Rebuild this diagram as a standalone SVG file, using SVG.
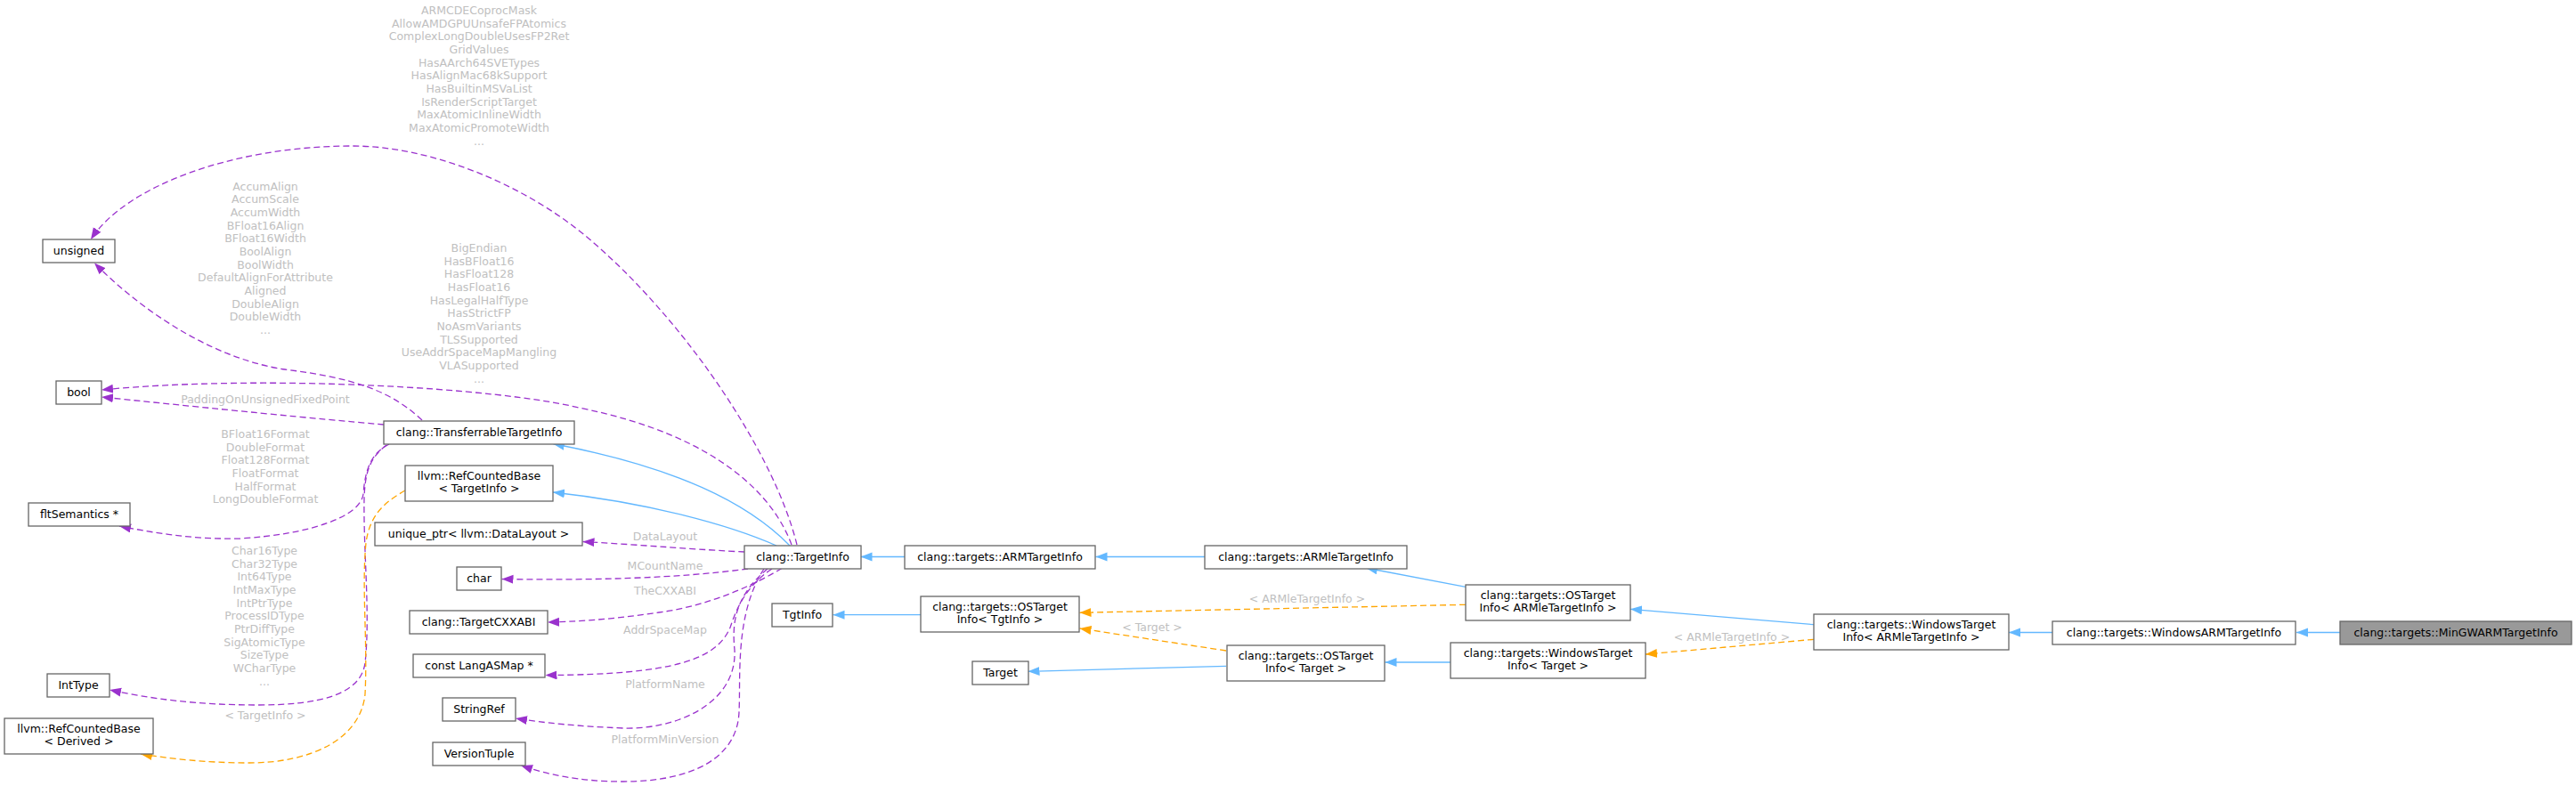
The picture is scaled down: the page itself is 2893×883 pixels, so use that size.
<svg xmlns="http://www.w3.org/2000/svg" width="2893" height="883" viewBox="0 0 2893 883">
<style>
.n rect{fill:#ffffff;stroke:#666666;stroke-width:1.3}
.n.h rect{fill:#999999}
text{font-family:"DejaVu Sans","Liberation Sans",sans-serif;font-size:12.5px;text-anchor:middle}
.n text{fill:#000000}
.lb{fill:#c0c0c0}
.eb{fill:none;stroke:#63b8ff;stroke-width:1.3}
.ep{fill:none;stroke:#9a32cd;stroke-width:1.3;stroke-dasharray:7,4}
.eo{fill:none;stroke:#ffa500;stroke-width:1.3;stroke-dasharray:7,4}
</style>
<defs>
<marker id="ab" markerUnits="userSpaceOnUse" markerWidth="14" markerHeight="11" refX="13" refY="5" orient="auto"><path d="M0,0 L13,5 L0,10 z" fill="#63b8ff"/></marker>
<marker id="ap" markerUnits="userSpaceOnUse" markerWidth="14" markerHeight="11" refX="13" refY="5" orient="auto"><path d="M0,0 L13,5 L0,10 z" fill="#9a32cd"/></marker>
<marker id="ao" markerUnits="userSpaceOnUse" markerWidth="14" markerHeight="11" refX="13" refY="5" orient="auto"><path d="M0,0 L13,5 L0,10 z" fill="#ffa500"/></marker>
</defs>
<rect x="0" y="0" width="2893" height="883" fill="#ffffff"/>

<g id="edges">
<path class="eb" marker-end="url(#ab)" d="M2628,710.5 L2579,710.5"/>
<path class="eb" marker-end="url(#ab)" d="M2305,710.5 L2256,710.5"/>
<path class="eb" marker-end="url(#ab)" d="M2037,701.7 L1831,684.3"/>
<path class="eo" marker-end="url(#ao)" d="M2037,718.3 L1848,735"/>
<path class="eb" marker-end="url(#ab)" d="M1646,659.3 L1534,638"/>
<path class="eo" marker-end="url(#ao)" d="M1646,679.3 L1212.5,688.3"/>
<path class="eb" marker-end="url(#ab)" d="M1353,625.5 L1230.5,625.5"/>
<path class="eb" marker-end="url(#ab)" d="M1016,625.5 L966.5,625.5"/>
<path class="eb" marker-end="url(#ab)" d="M1629,744 L1555.5,744"/>
<path class="eo" marker-end="url(#ao)" d="M1377,731 L1212.5,706"/>
<path class="eb" marker-end="url(#ab)" d="M1377,748.3 L1154.5,754.3"/>
<path class="eb" marker-end="url(#ab)" d="M1034,690.7 L935.5,690.7"/>
<path class="eb" marker-end="url(#ab)" d="M887,613 C840,565 760,525 621,498.5"/>
<path class="eb" marker-end="url(#ab)" d="M872,613 C820,590 730,565 621,553"/>

<path class="ep" marker-end="url(#ap)" d="M836,620 C790,618 720,612 654.5,608.5"/>
<path class="ep" marker-end="url(#ap)" d="M840,639 C760,650 660,652 563.5,650.5"/>
<path class="ep" marker-end="url(#ap)" d="M878,638.5 C850,655 800,680 740,688 C700,694 660,698 615,699"/>
<path class="ep" marker-end="url(#ap)" d="M867,639 C835,660 825,690 820,705 C805,740 760,758 612.5,758.5"/>
<path class="ep" marker-end="url(#ap)" d="M862,639 C825,670 822,700 825,730 C828,790 760,820 700,818 C650,816 610,812 579,807"/>
<path class="ep" marker-end="url(#ap)" d="M858,639 C825,690 832,760 830,800 C828,850 780,878 700,878 C650,878 615,870 585,860"/>
<path class="ep" marker-end="url(#ap)" d="M895,612 C870,510 770,360 660,267 C585,204 480,164 396,164 C260,164 140,210 102,269"/>
<path class="ep" marker-end="url(#ap)" d="M889,612 C870,560 810,490 650,458 C560,436 300,420 114,438"/>
<path class="ep" marker-end="url(#ap)" d="M474,472 C440,440 400,425 320,415 C250,405 170,360 106,295.5"/>
<path class="ep" marker-end="url(#ap)" d="M431,477 C350,470 250,460 114,446"/>
<path class="ep" marker-end="url(#ap)" d="M437,499 C415,510 410,530 408,555 C405,580 350,600 270,605 C220,606 180,600 134,591"/>
<path class="ep" marker-end="url(#ap)" d="M434,500 C415,515 410,530 409,560 C408,620 416,690 410,745 C405,780 360,792 290,792 C220,792 170,785 123,775"/>
<path class="eo" marker-end="url(#ao)" d="M455,551 C430,565 415,580 411,610 C406,660 413,720 410,780 C405,830 350,857 280,857 C230,857 190,852 158,847"/>

<text class="lb" x="538" y="16"><tspan x="538">ARMCDECoprocMask</tspan><tspan x="538" dy="14.67">AllowAMDGPUUnsafeFPAtomics</tspan><tspan x="538" dy="14.67">ComplexLongDoubleUsesFP2Ret</tspan><tspan x="538" dy="14.67">GridValues</tspan><tspan x="538" dy="14.67">HasAArch64SVETypes</tspan><tspan x="538" dy="14.67">HasAlignMac68kSupport</tspan><tspan x="538" dy="14.67">HasBuiltinMSVaList</tspan><tspan x="538" dy="14.67">IsRenderScriptTarget</tspan><tspan x="538" dy="14.67">MaxAtomicInlineWidth</tspan><tspan x="538" dy="14.67">MaxAtomicPromoteWidth</tspan><tspan x="538" dy="14.67">...</tspan></text>
<text class="lb" x="298" y="213.5"><tspan x="298">AccumAlign</tspan><tspan x="298" dy="14.67">AccumScale</tspan><tspan x="298" dy="14.67">AccumWidth</tspan><tspan x="298" dy="14.67">BFloat16Align</tspan><tspan x="298" dy="14.67">BFloat16Width</tspan><tspan x="298" dy="14.67">BoolAlign</tspan><tspan x="298" dy="14.67">BoolWidth</tspan><tspan x="298" dy="14.67">DefaultAlignForAttribute</tspan><tspan x="298" dy="14.67">Aligned</tspan><tspan x="298" dy="14.67">DoubleAlign</tspan><tspan x="298" dy="14.67">DoubleWidth</tspan><tspan x="298" dy="14.67">...</tspan></text>
<text class="lb" x="538" y="283"><tspan x="538">BigEndian</tspan><tspan x="538" dy="14.67">HasBFloat16</tspan><tspan x="538" dy="14.67">HasFloat128</tspan><tspan x="538" dy="14.67">HasFloat16</tspan><tspan x="538" dy="14.67">HasLegalHalfType</tspan><tspan x="538" dy="14.67">HasStrictFP</tspan><tspan x="538" dy="14.67">NoAsmVariants</tspan><tspan x="538" dy="14.67">TLSSupported</tspan><tspan x="538" dy="14.67">UseAddrSpaceMapMangling</tspan><tspan x="538" dy="14.67">VLASupported</tspan><tspan x="538" dy="14.67">...</tspan></text>
<text class="lb" x="298" y="452.8">PaddingOnUnsignedFixedPoint</text>
<text class="lb" x="298" y="492"><tspan x="298">BFloat16Format</tspan><tspan x="298" dy="14.67">DoubleFormat</tspan><tspan x="298" dy="14.67">Float128Format</tspan><tspan x="298" dy="14.67">FloatFormat</tspan><tspan x="298" dy="14.67">HalfFormat</tspan><tspan x="298" dy="14.67">LongDoubleFormat</tspan></text>
<text class="lb" x="297" y="623"><tspan x="297">Char16Type</tspan><tspan x="297" dy="14.67">Char32Type</tspan><tspan x="297" dy="14.67">Int64Type</tspan><tspan x="297" dy="14.67">IntMaxType</tspan><tspan x="297" dy="14.67">IntPtrType</tspan><tspan x="297" dy="14.67">ProcessIDType</tspan><tspan x="297" dy="14.67">PtrDiffType</tspan><tspan x="297" dy="14.67">SigAtomicType</tspan><tspan x="297" dy="14.67">SizeType</tspan><tspan x="297" dy="14.67">WCharType</tspan><tspan x="297" dy="14.67">...</tspan></text>
<text class="lb" x="298" y="808">&lt; TargetInfo &gt;</text>
<text class="lb" x="747" y="607">DataLayout</text>
<text class="lb" x="747" y="640">MCountName</text>
<text class="lb" x="747" y="668">TheCXXABI</text>
<text class="lb" x="747" y="712">AddrSpaceMap</text>
<text class="lb" x="747" y="773">PlatformName</text>
<text class="lb" x="747" y="834.5">PlatformMinVersion</text>
<text class="lb" x="1468" y="677">&lt; ARMleTargetInfo &gt;</text>
<text class="lb" x="1294" y="709">&lt; Target &gt;</text>
<text class="lb" x="1945" y="719.5">&lt; ARMleTargetInfo &gt;</text>
</g>

<g id="n_unsigned" class="n"><rect x="48" y="269" width="81" height="26"/><text x="88.5" y="286">unsigned</text></g>
<g id="n_bool" class="n"><rect x="63" y="428" width="51" height="26"/><text x="88.5" y="445">bool</text></g>
<g id="n_fltsem" class="n"><rect x="32" y="565" width="114" height="26"/><text x="89" y="582">fltSemantics *</text></g>
<g id="n_inttype" class="n"><rect x="53" y="757" width="70" height="26"/><text x="88" y="774">IntType</text></g>
<g id="n_rcb_derived" class="n"><rect x="5" y="807" width="167" height="40"/><text x="88.5" y="822.5">llvm::RefCountedBase</text><text x="88.5" y="836.5">&lt; Derived &gt;</text></g>
<g id="n_transferrable" class="n"><rect x="431" y="473" width="214" height="26"/><text x="538" y="490">clang::TransferrableTargetInfo</text></g>
<g id="n_rcb_ti" class="n"><rect x="455" y="523" width="166" height="40"/><text x="538" y="538.5">llvm::RefCountedBase</text><text x="538" y="552.5">&lt; TargetInfo &gt;</text></g>
<g id="n_uniqueptr" class="n"><rect x="421" y="587" width="233" height="26"/><text x="537.5" y="604">unique_ptr&lt; llvm::DataLayout &gt;</text></g>
<g id="n_char" class="n"><rect x="513" y="637" width="50" height="26"/><text x="538" y="654">char</text></g>
<g id="n_cxxabi" class="n"><rect x="460" y="686" width="155" height="26"/><text x="537.5" y="703">clang::TargetCXXABI</text></g>
<g id="n_langasmap" class="n"><rect x="464" y="735" width="148" height="26"/><text x="538" y="752">const LangASMap *</text></g>
<g id="n_stringref" class="n"><rect x="497" y="784" width="82" height="26"/><text x="538" y="801">StringRef</text></g>
<g id="n_versiontuple" class="n"><rect x="486" y="834" width="104" height="26"/><text x="538" y="851">VersionTuple</text></g>
<g id="n_targetinfo" class="n"><rect x="836" y="613" width="131" height="26"/><text x="901.5" y="630">clang::TargetInfo</text></g>
<g id="n_tgtinfo" class="n"><rect x="867" y="678" width="68" height="26"/><text x="901" y="695">TgtInfo</text></g>
<g id="n_armtarget" class="n"><rect x="1016" y="613" width="214" height="26"/><text x="1123" y="630">clang::targets::ARMTargetInfo</text></g>
<g id="n_ostarget_tgt" class="n"><rect x="1034" y="670" width="178" height="40"/><text x="1123" y="685.5">clang::targets::OSTarget</text><text x="1123" y="699.5">Info&lt; TgtInfo &gt;</text></g>
<g id="n_target" class="n"><rect x="1092" y="743" width="63" height="26"/><text x="1123.5" y="760">Target</text></g>
<g id="n_armle" class="n"><rect x="1353" y="613" width="227" height="26"/><text x="1466.5" y="630">clang::targets::ARMleTargetInfo</text></g>
<g id="n_ostarget_target" class="n"><rect x="1378" y="725" width="177" height="40"/><text x="1466.5" y="740.5">clang::targets::OSTarget</text><text x="1466.5" y="754.5">Info&lt; Target &gt;</text></g>
<g id="n_ostarget_armle" class="n"><rect x="1646" y="657" width="185" height="40"/><text x="1738.5" y="672.5">clang::targets::OSTarget</text><text x="1738.5" y="686.5">Info&lt; ARMleTargetInfo &gt;</text></g>
<g id="n_wintarget_target" class="n"><rect x="1629" y="722" width="219" height="40"/><text x="1738.5" y="737.5">clang::targets::WindowsTarget</text><text x="1738.5" y="751.5">Info&lt; Target &gt;</text></g>
<g id="n_wintarget_armle" class="n"><rect x="2037" y="690" width="219" height="40"/><text x="2146.5" y="705.5">clang::targets::WindowsTarget</text><text x="2146.5" y="719.5">Info&lt; ARMleTargetInfo &gt;</text></g>
<g id="n_winarm" class="n"><rect x="2305" y="698" width="273" height="26"/><text x="2441.5" y="715">clang::targets::WindowsARMTargetInfo</text></g>
<g id="n_mingwarm" class="n h"><rect x="2628" y="698" width="260" height="26"/><text x="2758" y="715">clang::targets::MinGWARMTargetInfo</text></g>
</svg>
